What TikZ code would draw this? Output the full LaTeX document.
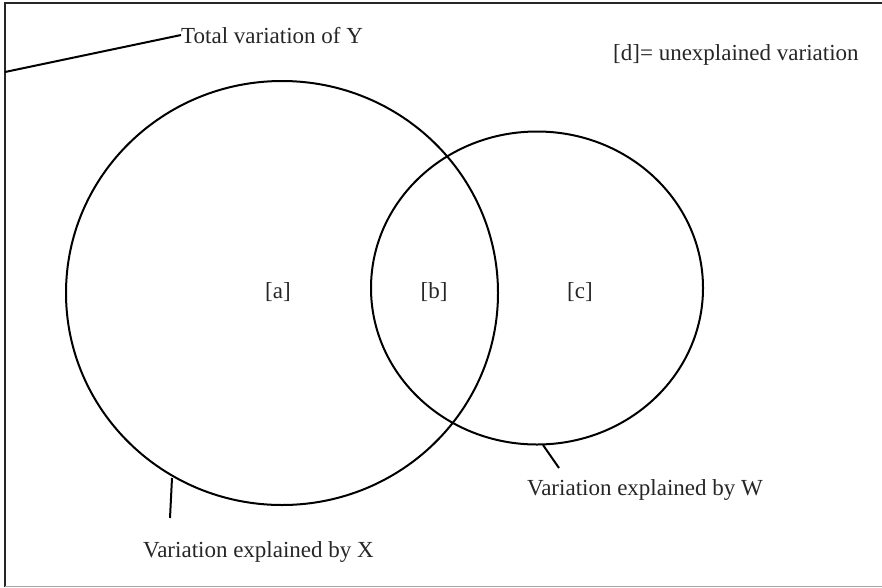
\documentclass[tikz,border=0pt]{standalone}
\usepackage{fontspec}
\setmainfont{Liberation Serif}
\usetikzlibrary{shapes.geometric}
\begin{document}
\begin{tikzpicture}[x=1pt,y=-1pt,
  lbl/.style={inner sep=0pt,font=\fontsize{23}{27}\selectfont,text=black!85},
  venn/.style={ellipse,draw,line width=2pt,inner sep=0pt},
  lead/.style={line width=2pt}]
\useasboundingbox (0,0) rectangle (882,587);
% frame
\draw[line width=2.5pt,black!85] (5,587) -- (5,3) -- (882,3);
\draw[line width=1pt,black!35] (5,586) -- (882,586);
% circles
\node[venn,minimum width=432pt,minimum height=424pt] (X) at (282,293) {};
\node[venn,minimum width=332pt,minimum height=313pt] (W) at (537,288) {};
% region labels
\node[lbl,anchor=base] (a) at (278,298) {[a]};
\node[lbl,anchor=base] (b) at (434,298) {[b]};
\node[lbl,anchor=base] (c) at (580,298) {[c]};
% text labels
\node[lbl,anchor=base west] (tot) at (181,43) {Total variation of Y};
\node[lbl,anchor=base west] (d) at (613,60) {[d]= unexplained variation};
\node[lbl,anchor=base west] (lx) at (143,557) {Variation explained by X};
\node[lbl,anchor=base west] (lw) at (527,495) {Variation explained by W};
% leaders
\coordinate (t0) at (5,72);
\coordinate (x0) at (172,478);
\coordinate (x1) at (170,518);
\coordinate (w0) at (543,445);
\coordinate (w1) at (559,468);
\draw[lead] (t0) -- (tot.west);
\draw[lead] (x0) -- (x1);
\draw[lead] (w0) -- (w1);
\end{tikzpicture}
\end{document}
